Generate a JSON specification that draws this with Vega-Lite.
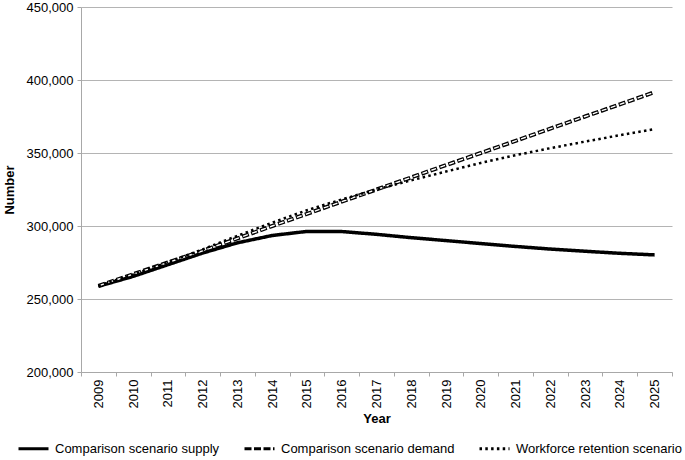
{
  "$schema": "https://vega.github.io/schema/vega-lite/v6.json",
  "width": 591,
  "height": 365,
  "autosize": "none",
  "padding": {"left": 81, "top": 7, "right": 13, "bottom": 88},
  "background": "white",
  "config": {
    "font": "Liberation Sans",
    "view": {"stroke": null},
    "axis": {"labelFont": "Liberation Sans", "labelFontSize": 13, "labelColor": "#000000", "titleFont": "Liberation Sans", "titleFontSize": 13, "titleFontWeight": "bold", "titleColor": "#000000", "domainColor": "#a8a8a8", "tickColor": "#a8a8a8", "gridColor": "#b4b4b4", "tickSize": 4}
  },
  "data": {
    "values": [
      {"year": "2009", "series": "Comparison scenario supply", "value": 258700},
      {"year": "2010", "series": "Comparison scenario supply", "value": 265500},
      {"year": "2011", "series": "Comparison scenario supply", "value": 273500},
      {"year": "2012", "series": "Comparison scenario supply", "value": 281500},
      {"year": "2013", "series": "Comparison scenario supply", "value": 288500},
      {"year": "2014", "series": "Comparison scenario supply", "value": 293500},
      {"year": "2015", "series": "Comparison scenario supply", "value": 296300},
      {"year": "2016", "series": "Comparison scenario supply", "value": 296200},
      {"year": "2017", "series": "Comparison scenario supply", "value": 294300},
      {"year": "2018", "series": "Comparison scenario supply", "value": 292000},
      {"year": "2019", "series": "Comparison scenario supply", "value": 290000},
      {"year": "2020", "series": "Comparison scenario supply", "value": 288000},
      {"year": "2021", "series": "Comparison scenario supply", "value": 286000},
      {"year": "2022", "series": "Comparison scenario supply", "value": 284200},
      {"year": "2023", "series": "Comparison scenario supply", "value": 282700},
      {"year": "2024", "series": "Comparison scenario supply", "value": 281300},
      {"year": "2025", "series": "Comparison scenario supply", "value": 280200},
      {"year": "2009", "series": "Comparison scenario demand", "value": 259000},
      {"year": "2010", "series": "Comparison scenario demand", "value": 267000},
      {"year": "2011", "series": "Comparison scenario demand", "value": 275000},
      {"year": "2012", "series": "Comparison scenario demand", "value": 283000},
      {"year": "2013", "series": "Comparison scenario demand", "value": 291500},
      {"year": "2014", "series": "Comparison scenario demand", "value": 300000},
      {"year": "2015", "series": "Comparison scenario demand", "value": 308300},
      {"year": "2016", "series": "Comparison scenario demand", "value": 316700},
      {"year": "2017", "series": "Comparison scenario demand", "value": 325000},
      {"year": "2018", "series": "Comparison scenario demand", "value": 333300},
      {"year": "2019", "series": "Comparison scenario demand", "value": 341700},
      {"year": "2020", "series": "Comparison scenario demand", "value": 350000},
      {"year": "2021", "series": "Comparison scenario demand", "value": 358300},
      {"year": "2022", "series": "Comparison scenario demand", "value": 366700},
      {"year": "2023", "series": "Comparison scenario demand", "value": 375000},
      {"year": "2024", "series": "Comparison scenario demand", "value": 383300},
      {"year": "2025", "series": "Comparison scenario demand", "value": 391700},
      {"year": "2009", "series": "Workforce retention scenario", "value": 259000},
      {"year": "2010", "series": "Workforce retention scenario", "value": 266800},
      {"year": "2011", "series": "Workforce retention scenario", "value": 275200},
      {"year": "2012", "series": "Workforce retention scenario", "value": 284000},
      {"year": "2013", "series": "Workforce retention scenario", "value": 293300},
      {"year": "2014", "series": "Workforce retention scenario", "value": 302300},
      {"year": "2015", "series": "Workforce retention scenario", "value": 310800},
      {"year": "2016", "series": "Workforce retention scenario", "value": 318200},
      {"year": "2017", "series": "Workforce retention scenario", "value": 325000},
      {"year": "2018", "series": "Workforce retention scenario", "value": 331300},
      {"year": "2019", "series": "Workforce retention scenario", "value": 337300},
      {"year": "2020", "series": "Workforce retention scenario", "value": 343200},
      {"year": "2021", "series": "Workforce retention scenario", "value": 348500},
      {"year": "2022", "series": "Workforce retention scenario", "value": 353300},
      {"year": "2023", "series": "Workforce retention scenario", "value": 357800},
      {"year": "2024", "series": "Workforce retention scenario", "value": 362200},
      {"year": "2025", "series": "Workforce retention scenario", "value": 366400}
    ]
  },
  "encoding": {
    "x": {
      "field": "year", "type": "ordinal", "title": "Year",
      "scale": {"type": "band", "paddingInner": 0, "paddingOuter": 0},
      "axis": {"labelAngle": -90, "tickBand": "extent", "labelPadding": 3, "titlePadding": 5, "grid": false}
    },
    "y": {
      "field": "value", "type": "quantitative", "title": "Number",
      "scale": {"domain": [200000, 450000], "nice": false, "zero": false},
      "axis": {"values": [200000, 250000, 300000, 350000, 400000, 450000], "format": ",d", "labelPadding": 4, "titlePadding": 10, "grid": true}
    }
  },
  "layer": [
    {
      "transform": [{"filter": "datum.series === 'Comparison scenario supply'"}],
      "mark": {"type": "line", "strokeWidth": 3.5, "strokeJoin": "round"},
      "encoding": {
        "color": {"field": "series", "type": "nominal", "scale": {"domain": ["Comparison scenario supply", "Comparison scenario demand", "Workforce retention scenario"], "range": ["#000000", "#000000", "#000000"]},
          "legend": {"title": null, "orient": "none", "direction": "horizontal", "legendX": -64, "legendY": 425, "symbolType": "stroke", "symbolSize": 900, "symbolStrokeWidth": 3, "labelFontSize": 13, "labelFont": "Liberation Sans", "labelColor": "#000000", "labelOffset": 5, "labelLimit": 400, "columnPadding": 18}},
        "strokeDash": {"field": "series", "type": "nominal", "scale": {"domain": ["Comparison scenario supply", "Comparison scenario demand", "Workforce retention scenario"], "range": [[1, 0], [7, 2.5], [2.5, 3.3]]}}
      }
    },
    {
      "transform": [{"filter": "datum.series === 'Comparison scenario demand'"}],
      "mark": {"type": "line", "strokeWidth": 4},
      "encoding": {
        "color": {"field": "series", "type": "nominal"},
        "strokeDash": {"field": "series", "type": "nominal"}
      }
    },
    {
      "transform": [{"filter": "datum.series === 'Comparison scenario demand'"}],
      "mark": {"type": "line", "strokeWidth": 1.4, "color": "#ffffff", "strokeDash": [5, 4.5], "strokeDashOffset": 8.5},
      "encoding": {}
    },
    {
      "transform": [{"filter": "datum.series === 'Workforce retention scenario'"}],
      "mark": {"type": "line", "strokeWidth": 2.5},
      "encoding": {
        "color": {"field": "series", "type": "nominal"},
        "strokeDash": {"field": "series", "type": "nominal"}
      }
    }
  ]
}
